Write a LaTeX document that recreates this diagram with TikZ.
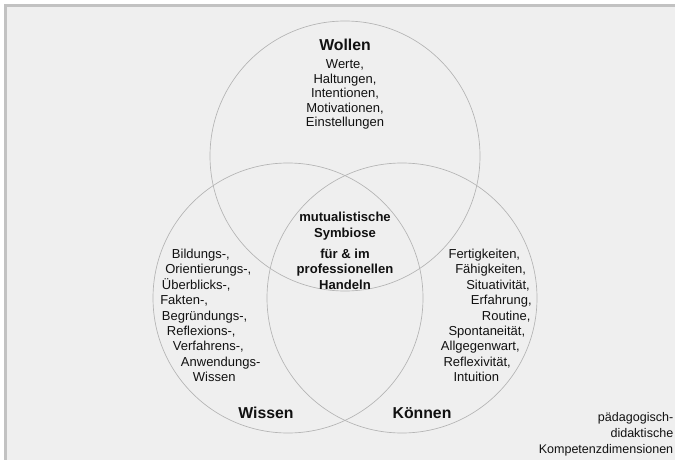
\documentclass[tikz,border=0pt]{standalone}
\usepackage{fontspec}
\setmainfont{Liberation Sans}
\definecolor{bgfill}{HTML}{EFEFEF}
\definecolor{framecol}{HTML}{C2C2C2}
\definecolor{circcol}{HTML}{B4B4B4}
\definecolor{txt}{HTML}{111111}
\begin{document}
\begin{tikzpicture}[x=0.75pt,y=-0.75pt,
  venn/.style={circle, draw=circcol, line width=0.5pt, minimum size=202.5pt, inner sep=0pt},
  lbl/.style={font=\fontsize{11.85pt}{14pt}\selectfont\bfseries, text=txt, inner sep=0pt, anchor=base},
  item/.style={font=\fontsize{9.75pt}{11pt}\selectfont, text=txt, inner sep=0pt, anchor=base},
  itemw/.style={item, anchor=base west},
  mid/.style={font=\fontsize{9.8pt}{11pt}\selectfont\bfseries, text=txt, inner sep=0pt, anchor=base},
  corner/.style={font=\fontsize{9.4pt}{11pt}\selectfont, text=txt, inner sep=0pt, anchor=base east}]
\useasboundingbox (0,0) rectangle (675,460);
\clip (0,0) rectangle (675,460);
\fill[white] (0,0) rectangle (675,460);
\fill[bgfill] (5.5,5.5) rectangle (680,470);
\draw[framecol, line width=1.9pt] (5.5,470) -- (5.5,5.5) -- (680,5.5);
% circles
\node[venn] (cwollen) at (345,156) {};
\node[venn] (cwissen) at (288,298) {};
\node[venn] (ckoennen) at (402,298) {};
% Wollen
\node[lbl] (twollen) at (345,51) {Wollen};
\node[item] (w1) at (345,68.5) {Werte,};
\node[item] (w2) at (345,83.1) {Haltungen,};
\node[item] (w3) at (345,97.7) {Intentionen,};
\node[item] (w4) at (345,112.3) {Motivationen,};
\node[item] (w5) at (345,126.9) {Einstellungen};
% centre
\node[mid] (m1) at (345,221) {mutualistische};
\node[mid] (m2) at (345,237) {Symbiose};
\node[mid] (m3) at (345,258) {für \& im};
\node[mid] (m4) at (345,273.5) {professionellen};
\node[mid] (m5) at (345,289) {Handeln};
% Wissen list
\node[itemw] (k1) at (171.7,258.5) {Bildungs-,};
\node[itemw] (k2) at (165,273.9) {Orientierungs-,};
\node[itemw] (k3) at (161.7,289.3) {Überblicks-,};
\node[itemw] (k4) at (160,304.7) {Fakten-,};
\node[itemw] (k5) at (161.7,320.1) {Begründungs-,};
\node[itemw] (k6) at (166.7,335.5) {Reflexions-,};
\node[itemw] (k7) at (172.7,350.9) {Verfahrens-,};
\node[itemw] (k8) at (180.7,366.3) {Anwendungs-};
\node[itemw] (k9) at (192.7,381.7) {Wissen};
% Koennen list
\node[itemw] (f1) at (448.3,258.5) {Fertigkeiten,};
\node[itemw] (f2) at (455,273.9) {Fähigkeiten,};
\node[itemw] (f3) at (466,289.3) {Situativität,};
\node[itemw] (f4) at (470.7,304.7) {Erfahrung,};
\node[itemw] (f5) at (481.7,320.1) {Routine,};
\node[itemw] (f6) at (448.3,335.5) {Spontaneität,};
\node[itemw] (f7) at (440.7,350.9) {Allgegenwart,};
\node[itemw] (f8) at (443.3,366.3) {Reflexivität,};
\node[itemw] (f9) at (453.3,381.7) {Intuition};
% labels
\node[lbl] (twissen) at (266,418.7) {Wissen};
\node[lbl] (tkoennen) at (422,418.7) {Können};
% corner text
\node[corner] (c1) at (673.5,421.5) {pädagogisch-};
\node[corner] (c2) at (673.5,437.5) {didaktische};
\node[corner] (c3) at (673.5,453.5) {Kompetenzdimensionen};
\end{tikzpicture}
\end{document}
